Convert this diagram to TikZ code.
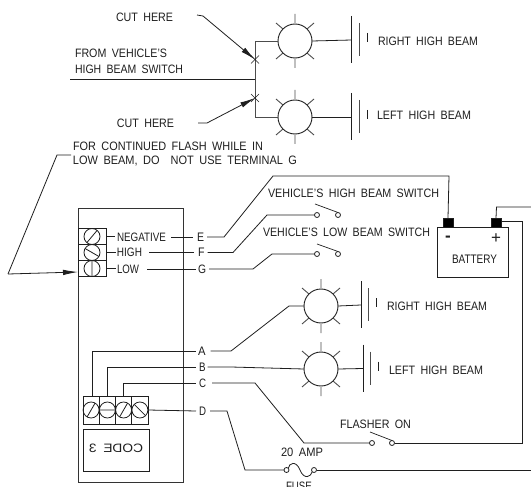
\documentclass[tikz,border=0pt]{standalone}
\usepackage{fontspec}
\usepackage{graphicx}
\setmainfont{Liberation Sans}
\usetikzlibrary{arrows.meta}
\definecolor{ink}{gray}{0.12}
\newcommand\labfont{\fontsize{11}{13}\selectfont\spaceskip=.5em\relax}
\newcommand\lab[5]{\node[labnode] (#1) at (#2,#3) {\resizebox{#4pt}{8.5pt}{#5}};}
\newcommand\lamp[3]{%
  \node[lampnode] (#1) at (#2,#3) {};
  \draw[raygray] (#2,#3-27) -- (#2,#3-18) (#2,#3+18) -- (#2,#3+27)
    (#2-19,#3-18) -- (#2-12,#3-12) (#2+19,#3-18) -- (#2+12,#3-12)
    (#2-19,#3+18) -- (#2-12,#3+12) (#2+19,#3+18) -- (#2+12,#3+12);}
\newcommand\plates[3]{%
  \coordinate (#1) at (#2,#3);
  \draw[wire] (#2,#3-24) -- (#2,#3+23);
  \draw[raygray] (#2+7.5,#3-17) -- (#2+7.5,#3+16);
  \draw[wire,line width=.6pt] (#2+15.5,#3-7) -- (#2+15.5,#3+2);}
\tikzset{
  wire/.style={draw=ink,line width=.8pt},
  raygray/.style={draw=black!70,line width=.9pt},
  labnode/.style={anchor=west,inner sep=0pt,outer sep=0pt,font=\labfont,text=ink},
  lampnode/.style={circle,draw=ink,line width=.9pt,minimum size=34pt,inner sep=0pt,outer sep=0pt},
  contact/.style={circle,draw=ink,line width=.8pt,fill=white,minimum size=5pt,inner sep=0pt,outer sep=0pt},
  cell/.style={rectangle,draw=ink,line width=.7pt,inner sep=0pt,outer sep=0pt},
  screw/.style={circle,draw=ink,line width=.8pt,minimum size=16pt,inner sep=0pt,outer sep=0pt},
  signm/.style={inner sep=0pt,outer sep=0pt,font=\fontsize{17}{17}\selectfont\bfseries,text=ink},
  signp/.style={inner sep=0pt,outer sep=0pt,font=\fontsize{17}{17}\selectfont,text=ink},
  gap/.style={shorten <=5pt,shorten >=4pt},
  headarrow/.style={wire,-{Latex[length=15pt,width=5.5pt]}},
}
\begin{document}
\begin{tikzpicture}[x=1pt,y=-1pt]
\clip (0,0) rectangle (531,487);
\fill[white] (0,0) rectangle (531,487);
% ---------- top circuit
\lamp{lr}{295}{41}
\lamp{ll}{295}{117}
\plates{pr}{351.5}{40}
\plates{pl}{351.5}{117}
\coordinate (sw) at (70,79);
\coordinate (busm) at (255,79);
\coordinate (cutA) at (255,59.5);
\coordinate (cutB) at (255,98);
\draw[wire] (sw) -- (busm);
\draw[raygray] (lr.west) -- (255,41) -- (255,117) -- (ll.west);
\draw[wire] (lr.east) -- (pr);
\draw[wire] (ll.east) -- (pl);
\draw[wire,line width=.6pt] (251,55.5) -- (259,63.5) (251,63.5) -- (259,55.5)
  (251,94) -- (259,102) (251,102) -- (259,94);
\lab{cuta}{116}{17.5}{57}{CUT HERE}
\lab{cutb}{117}{123}{57}{CUT HERE}
\draw[headarrow] (197,15) -- (203,16) -- (cutA);
\draw[headarrow] (198,123) -- (207,123) -- (cutB);
\lab{from}{75}{53.5}{92}{FROM VEHICLE'S}
\lab{hbs}{75}{69}{108}{HIGH BEAM SWITCH}
\lab{rhb1}{378}{41.5}{100}{RIGHT HIGH BEAM}
\lab{lhb1}{377}{115.5}{94}{LEFT HIGH BEAM}
% ---------- note
\lab{note1}{73}{146}{190}{FOR CONTINUED FLASH WHILE IN}
\lab{note2}{73}{161}{224}{LOW BEAM, DO \ NOT USE TERMINAL G}
% ---------- flasher box
\node[cell,line width=.9pt,minimum width=105pt,minimum height=274pt,draw=black!80] (box) at (130.5,345) {};
\node[cell,minimum width=28pt,minimum height=16pt] (cN) at (92,236.5) {};
\node[cell,minimum width=28pt,minimum height=16pt] (cH) at (92,252.5) {};
\node[cell,minimum width=28pt,minimum height=16pt] (cL) at (92,268.5) {};
\node[screw] (sN) at (92,236.5) {};
\node[screw] (sH) at (92,252.5) {};
\node[screw] (sL) at (92,268.5) {};
\draw[wire] (sN.50) -- (sN.230) (sH.150) -- (sH.330) (sL.90) -- (sL.270);
\draw[wire] (71,155) -- (57,155) -- (8,274);
\draw[headarrow] (8,274) -- (cL.west |- 0,272);
% labels on the upper terminals
\lab{neg}{117}{237}{49}{NEGATIVE}
\lab{high}{117}{252.5}{25}{HIGH}
\lab{low}{117}{269}{22}{LOW}
\lab{E}{197}{237}{7}{E}
\lab{F}{198}{252.5}{6.5}{F}
\lab{G}{198}{269}{8}{G}
\draw[wire] (cN.east) -- (115,236.5);
\draw[wire] (cH.east) -- (116,252.5);
\draw[wire] (cL.east) -- (116,268.5);
\draw[wire,gap] (neg.east) -- (E.west);
\draw[wire,shorten <=7pt,shorten >=4pt] (high.east) -- (F.west);
\draw[wire,shorten <=8pt,shorten >=2pt] (low.east) -- (G.west);
% ---------- battery
\node[cell,line width=.8pt,minimum width=71pt,minimum height=50pt] (bat) at (472.5,252) {};
\node[cell,fill=black,minimum width=10pt,minimum height=9pt] (negT) at (448,222.5) {};
\node[cell,fill=black,minimum width=10pt,minimum height=9pt] (posT) at (496,222.5) {};
\node[signm] (minus) at (448,239) {-};
\node[signp] (plus) at (496,239) {+};
\lab{batl}{452}{259}{45}{BATTERY}
\lab{vhb}{268}{193}{171}{VEHICLE'S HIGH BEAM SWITCH}
\lab{vlb}{263}{232}{167}{VEHICLE'S LOW BEAM SWITCH}
% ---------- switches
\node[contact] (s1a) at (317,215) {};
\node[contact] (s1b) at (338,215) {};
\node[contact] (s2a) at (317,254) {};
\node[contact] (s2b) at (338,254) {};
\node[contact] (s3a) at (372,443) {};
\node[contact] (s3b) at (392,443) {};
\draw[wire,line width=.7pt] (315,204) -- (s1b.north);
\draw[wire,line width=.7pt] (317,244) -- (s2b.north);
\draw[wire,line width=.7pt] (370,432) -- (s3b.north);
\draw[wire] (E.east) ++(3,0) -- (224,237) -- (273,176) -- (449,176) -- (negT.north);
\draw[wire] (F.east) ++(3,0) -- (233,252.5) -- (267,215) -- (s1a.west);
\draw[wire] (G.east) ++(3,0) -- (253,269) -- (272,254) -- (s2a.west);
\draw[wire] (posT.north) -- (496.5,207) -- (531,207);
\draw[wire] (posT.east) ++(0,-1) -- (522.5,221.5) -- (522.5,443) -- (s3b.east);
% ---------- lower lamps
\lamp{lr2}{321}{306}
\lamp{ll2}{321}{369}
\plates{pr2}{361}{305}
\plates{pl2}{363}{368.5}
\draw[wire] (lr2.east) -- (pr2);
\draw[wire] (ll2.east) -- (pl2);
\lab{rhb2}{387}{306}{100}{RIGHT HIGH BEAM}
\lab{lhb2}{389}{370}{94}{LEFT HIGH BEAM}
% ---------- lower terminals
\node[cell,minimum width=16.25pt,minimum height=28pt] (c1) at (91.1,410) {};
\node[cell,minimum width=16.25pt,minimum height=28pt] (c2) at (107.4,410) {};
\node[cell,minimum width=16.25pt,minimum height=28pt] (c3) at (123.6,410) {};
\node[cell,minimum width=16.25pt,minimum height=28pt] (c4) at (139.9,410) {};
\node[screw] (k1) at (91.1,410) {};
\node[screw] (k2) at (107.4,410) {};
\node[screw] (k3) at (123.6,410) {};
\node[screw] (k4) at (139.9,410) {};
\draw[wire] (k1.60) -- (k1.240) (k2.0) -- (k2.180) (k3.60) -- (k3.240) (k4.135) -- (k4.315);
\lab{A}{198}{351}{7.5}{A}
\lab{B}{199}{367}{6.5}{B}
\lab{C}{199}{383}{7}{C}
\lab{D}{199}{411}{7}{D}
\draw[wire] (c1.north) ++(1,0) |- ([xshift=-2pt]A.west);
\draw[wire] (c2.north) |- ([xshift=-3pt]B.west);
\draw[wire] (c3.north) |- ([xshift=-3pt]C.west);
\draw[wire] (c4.east) -- ([xshift=-3pt]D.west);
\draw[wire] ([xshift=5pt]A.east) -- (231,351) -- (289,306) -- (lr2.west);
\draw[wire] ([xshift=2pt]B.east) -- (231,367) -- (ll2.west);
\draw[wire] ([xshift=6pt]C.east) -- (255,383) -- (304,443) -- (s3a.west);
% ---------- fuse
\node[contact] (f1) at (286.5,470) {};
\node[contact] (f2) at (314,470) {};
\coordinate (rightD) at (531,470);
\draw[wire] ([xshift=4pt]D.east) -- (227,411) -- (245,470) -- (f1.west);
\draw[wire] (f1.north east) .. controls (289,463) and (296,460) .. (300,470)
  .. controls (304,480) and (311,477) .. (f2.south west);
\draw[wire] (f2.east) -- (rightD);
\lab{amp}{281}{452}{42}{20 AMP}
\lab{fuse}{286}{486}{26}{FUSE}
\lab{flon}{340}{424}{71}{FLASHER ON}
% ---------- code plate
\node[cell,minimum width=66pt,minimum height=42pt] (code) at (116,450) {};
\node[inner sep=0pt,font=\labfont,text=ink,xscale=-1] (codel) at (116,448) {\resizebox{54pt}{8.5pt}{CODE 3}};
\end{tikzpicture}
\end{document}
